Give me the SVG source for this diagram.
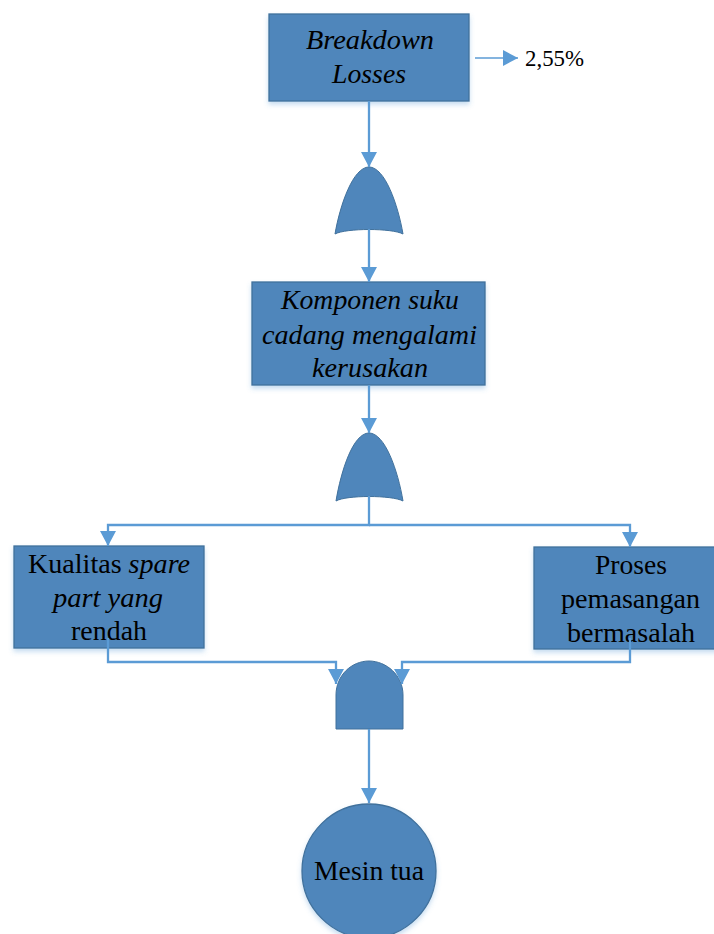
<svg xmlns="http://www.w3.org/2000/svg" width="714" height="934" viewBox="0 0 714 934">
<style>
.n{fill:#4f86bb;stroke:#41719c;stroke-width:1.3;filter:url(#s)}
.g{fill:#4f86bb;stroke:#41719c;stroke-width:1;}
.c{fill:none;stroke:#5b9bd5;stroke-width:2.3;marker-end:url(#a)}
text{font-family:"Liberation Serif","Times New Roman",serif;font-size:28px;fill:#000;text-anchor:middle}
.i{font-style:italic}
</style>
<defs>
<filter id="s" x="-10%" y="-10%" width="120%" height="125%"><feDropShadow dx="0" dy="3" stdDeviation="2.5" flood-color="#5b9bd5" flood-opacity="0.35"/></filter>
<marker id="a" markerUnits="userSpaceOnUse" markerWidth="16" markerHeight="16" refX="15" refY="8" orient="auto"><path d="M0 0L15 8L0 16Z" fill="#5b9bd5"/></marker>
</defs>
<g id="n1"><rect class="n" x="269" y="14" width="200" height="87"/><text class="i" x="370" y="49" textLength="128" lengthAdjust="spacingAndGlyphs">Breakdown</text><text class="i" x="369" y="83" textLength="74" lengthAdjust="spacingAndGlyphs">Losses</text></g>
<g id="v1"><text x="554.5" y="66" style="font-size:23.5px" textLength="59" lengthAdjust="spacingAndGlyphs">2,55%</text></g>
<g id="g1"><path class="g" d="M369 167C385 167 398 205 403 234C392 228 346 228 335 234C340 205 353 167 369 167Z"/></g>
<g id="n2"><rect class="n" x="252" y="282" width="233" height="103"/><text class="i" x="370" y="309" textLength="178" lengthAdjust="spacingAndGlyphs">Komponen suku</text><text class="i" x="369.5" y="344" textLength="215" lengthAdjust="spacingAndGlyphs">cadang mengalami</text><text class="i" x="370" y="377" textLength="116" lengthAdjust="spacingAndGlyphs">kerusakan</text></g>
<g id="g2"><path class="g" d="M369 433C385 433 398 471 403 501C392 495 346 495 336 501C341 471 353 433 369 433Z"/></g>
<g id="n3"><rect class="n" x="14" y="546" width="190" height="102"/><text x="109" y="573" textLength="162" lengthAdjust="spacingAndGlyphs">Kualitas <tspan class="i">spare</tspan></text><text class="i" x="108" y="607" textLength="110" lengthAdjust="spacingAndGlyphs">part yang</text><text x="109" y="640" textLength="76" lengthAdjust="spacingAndGlyphs">rendah</text></g>
<g id="n4"><rect class="n" x="534" y="547" width="190" height="102"/><text x="631" y="574" textLength="72" lengthAdjust="spacingAndGlyphs">Proses</text><text x="630.5" y="608" textLength="139" lengthAdjust="spacingAndGlyphs">pemasangan</text><text x="631" y="642" textLength="128" lengthAdjust="spacingAndGlyphs">bermasalah</text></g>
<g id="g3"><path class="g" d="M336 729V695C336 675 352 661 369 661C386 661 403 675 403 695V729Z"/></g>
<g id="n5"><circle class="n" cx="369" cy="871" r="67"/><text x="369" y="880" textLength="110" lengthAdjust="spacingAndGlyphs">Mesin tua</text></g>
<g id="connectors">
<path class="c" d="M369 101V167"/>
<path class="c" d="M369 229V282"/>
<path class="c" d="M369 385V433"/>
<path class="c" d="M369 496V525H108V546"/>
<path class="c" d="M369 525H630V547"/>
<path class="c" d="M108 638V662H336V684"/>
<path class="c" d="M630 638V662H402V684"/>
<path class="c" d="M369 729V803"/>
<path class="c" style="stroke-width:1.6" d="M475 58H518"/>
</g>
</svg>
